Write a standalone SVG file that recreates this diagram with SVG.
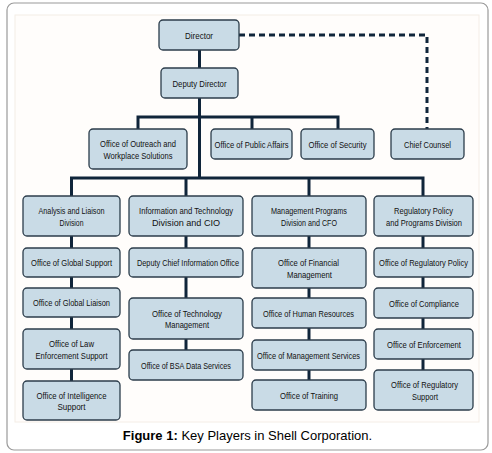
<svg xmlns="http://www.w3.org/2000/svg" width="492" height="453" viewBox="0 0 492 453">
<style>
.frame{fill:#ffffff;stroke:#9a9a9a;stroke-width:1.2}
.panel{fill:#fffdfb;stroke:#f4ede6;stroke-width:1}
.box{fill:#c9dbe6;stroke:#2c3d4b;stroke-width:1.3}
.t{font-family:"Liberation Sans",Arial,sans-serif;font-size:9.5px;fill:#111111;text-anchor:middle}
.ln{stroke:#10253a;stroke-width:3;fill:none}
.dash{stroke:#10253a;stroke-width:3;fill:none;stroke-dasharray:6,4}
.cap{font-family:"Liberation Sans",Arial,sans-serif;font-size:13px;fill:#000000;text-anchor:middle}
</style>
<rect class="frame" x="7" y="3" width="481" height="447" rx="7"/>
<rect class="panel" x="15" y="15" width="464" height="407"/>
<g id="connectors">
<line class="ln" x1="199.5" y1="50" x2="199.5" y2="178"/>
<polyline class="ln" points="138,129 138,117 338,117 338,129"/>
<line class="ln" x1="252" y1="117" x2="252" y2="129"/>
<polyline class="dash" points="239,35 427,35 427,129"/>
<polyline class="ln" points="71.5,196 71.5,178 423,178 423,196"/>
<line class="ln" x1="186" y1="178" x2="186" y2="196"/>
<line class="ln" x1="309" y1="178" x2="309" y2="196"/>
<line class="ln" x1="71.5" y1="236" x2="71.5" y2="381"/>
<line class="ln" x1="186" y1="236" x2="186" y2="350"/>
<line class="ln" x1="309" y1="236" x2="309" y2="380"/>
<line class="ln" x1="423" y1="236" x2="423" y2="370"/>
</g>
<g id="director"><rect class="box" x="159" y="20" width="80" height="30" rx="4"/><text class="t" x="199" y="38.5" textLength="28" lengthAdjust="spacingAndGlyphs">Director</text></g>
<g id="deputy-director"><rect class="box" x="161" y="68" width="77" height="30" rx="4"/><text class="t" x="199.5" y="86.5" textLength="54" lengthAdjust="spacingAndGlyphs">Deputy Director</text></g>
<g id="outreach"><rect class="box" x="89" y="129" width="98" height="40" rx="4"/><text class="t" x="138" y="147" textLength="76" lengthAdjust="spacingAndGlyphs">Office of Outreach and</text><text class="t" x="138" y="158.5" textLength="69" lengthAdjust="spacingAndGlyphs">Workplace Solutions</text></g>
<g id="public-affairs"><rect class="box" x="211" y="129" width="81" height="30" rx="4"/><text class="t" x="251.5" y="147.5" textLength="74" lengthAdjust="spacingAndGlyphs">Office of Public Affairs</text></g>
<g id="security"><rect class="box" x="301" y="129" width="73" height="30" rx="4"/><text class="t" x="337.5" y="147.5" textLength="58" lengthAdjust="spacingAndGlyphs">Office of Security</text></g>
<g id="chief-counsel"><rect class="box" x="391" y="129" width="73" height="30" rx="4"/><text class="t" x="427.5" y="147.5" textLength="47" lengthAdjust="spacingAndGlyphs">Chief Counsel</text></g>

<g id="analysis"><rect class="box" x="23" y="196" width="97" height="40" rx="4"/><text class="t" x="71.5" y="214" textLength="66" lengthAdjust="spacingAndGlyphs">Analysis and Liaison</text><text class="t" x="71.5" y="225.5" textLength="24" lengthAdjust="spacingAndGlyphs">Division</text></g>
<g id="global-support"><rect class="box" x="23" y="248" width="97" height="29" rx="4"/><text class="t" x="71.5" y="266" textLength="81" lengthAdjust="spacingAndGlyphs">Office of Global Support</text></g>
<g id="global-liaison"><rect class="box" x="23" y="288" width="97" height="29" rx="4"/><text class="t" x="71.5" y="306" textLength="77" lengthAdjust="spacingAndGlyphs">Office of Global Liaison</text></g>
<g id="law-enforcement"><rect class="box" x="23" y="329" width="97" height="40" rx="4"/><text class="t" x="71.5" y="347" textLength="45" lengthAdjust="spacingAndGlyphs">Office of Law</text><text class="t" x="71.5" y="358.5" textLength="72" lengthAdjust="spacingAndGlyphs">Enforcement Support</text></g>
<g id="intelligence"><rect class="box" x="23" y="381" width="97" height="39" rx="4"/><text class="t" x="71.5" y="398.5" textLength="70" lengthAdjust="spacingAndGlyphs">Office of Intelligence</text><text class="t" x="71.5" y="410" textLength="28" lengthAdjust="spacingAndGlyphs">Support</text></g>

<g id="info-tech"><rect class="box" x="129" y="196" width="114" height="40" rx="4"/><text class="t" x="186" y="214" textLength="94" lengthAdjust="spacingAndGlyphs">Information and Technology</text><text class="t" x="186" y="225.5" textLength="68" lengthAdjust="spacingAndGlyphs">Division and CIO</text></g>
<g id="deputy-cio"><rect class="box" x="129" y="248" width="114" height="29" rx="4"/><text class="t" x="188" y="266" textLength="102" lengthAdjust="spacingAndGlyphs">Deputy Chief Information Office</text></g>
<g id="tech-management"><rect class="box" x="129" y="298" width="114" height="41" rx="4"/><text class="t" x="187" y="316.5" textLength="70" lengthAdjust="spacingAndGlyphs">Office of Technology</text><text class="t" x="187" y="328" textLength="44" lengthAdjust="spacingAndGlyphs">Management</text></g>
<g id="bsa"><rect class="box" x="129" y="350" width="114" height="30" rx="4"/><text class="t" x="186" y="368.5" textLength="90" lengthAdjust="spacingAndGlyphs">Office of BSA Data Services</text></g>

<g id="mgmt-programs"><rect class="box" x="252" y="196" width="114" height="40" rx="4"/><text class="t" x="309" y="214" textLength="76" lengthAdjust="spacingAndGlyphs">Management Programs</text><text class="t" x="309" y="225.5" textLength="56" lengthAdjust="spacingAndGlyphs">Division and CFO</text></g>
<g id="financial"><rect class="box" x="252" y="248" width="114" height="40" rx="4"/><text class="t" x="308.5" y="266" textLength="61" lengthAdjust="spacingAndGlyphs">Office of Financial</text><text class="t" x="309.5" y="277.5" textLength="45" lengthAdjust="spacingAndGlyphs">Management</text></g>
<g id="human-resources"><rect class="box" x="252" y="298" width="114" height="30" rx="4"/><text class="t" x="308.5" y="316.5" textLength="91" lengthAdjust="spacingAndGlyphs">Office of Human Resources</text></g>
<g id="mgmt-services"><rect class="box" x="252" y="340" width="114" height="30" rx="4"/><text class="t" x="308.5" y="358.5" textLength="103" lengthAdjust="spacingAndGlyphs">Office of Management Services</text></g>
<g id="training"><rect class="box" x="252" y="380" width="114" height="30" rx="4"/><text class="t" x="309" y="398.5" textLength="58" lengthAdjust="spacingAndGlyphs">Office of Training</text></g>

<g id="regulatory"><rect class="box" x="374" y="196" width="99" height="40" rx="4"/><text class="t" x="423.5" y="214" textLength="59" lengthAdjust="spacingAndGlyphs">Regulatory Policy</text><text class="t" x="424" y="225.5" textLength="76" lengthAdjust="spacingAndGlyphs">and Programs Division</text></g>
<g id="reg-policy"><rect class="box" x="374" y="248" width="99" height="29" rx="4"/><text class="t" x="423.5" y="266" textLength="89" lengthAdjust="spacingAndGlyphs">Office of Regulatory Policy</text></g>
<g id="compliance"><rect class="box" x="374" y="288" width="99" height="30" rx="4"/><text class="t" x="424" y="306.5" textLength="70" lengthAdjust="spacingAndGlyphs">Office of Compliance</text></g>
<g id="enforcement"><rect class="box" x="374" y="329" width="99" height="30" rx="4"/><text class="t" x="424" y="347.5" textLength="74" lengthAdjust="spacingAndGlyphs">Office of Enforcement</text></g>
<g id="reg-support"><rect class="box" x="374" y="370" width="99" height="40" rx="4"/><text class="t" x="424.5" y="388" textLength="67" lengthAdjust="spacingAndGlyphs">Office of Regulatory</text><text class="t" x="425" y="399.5" textLength="26" lengthAdjust="spacingAndGlyphs">Support</text></g>

<text class="cap" x="247.5" y="440"><tspan font-weight="bold">Figure 1:</tspan> Key Players in Shell Corporation.</text>
</svg>
